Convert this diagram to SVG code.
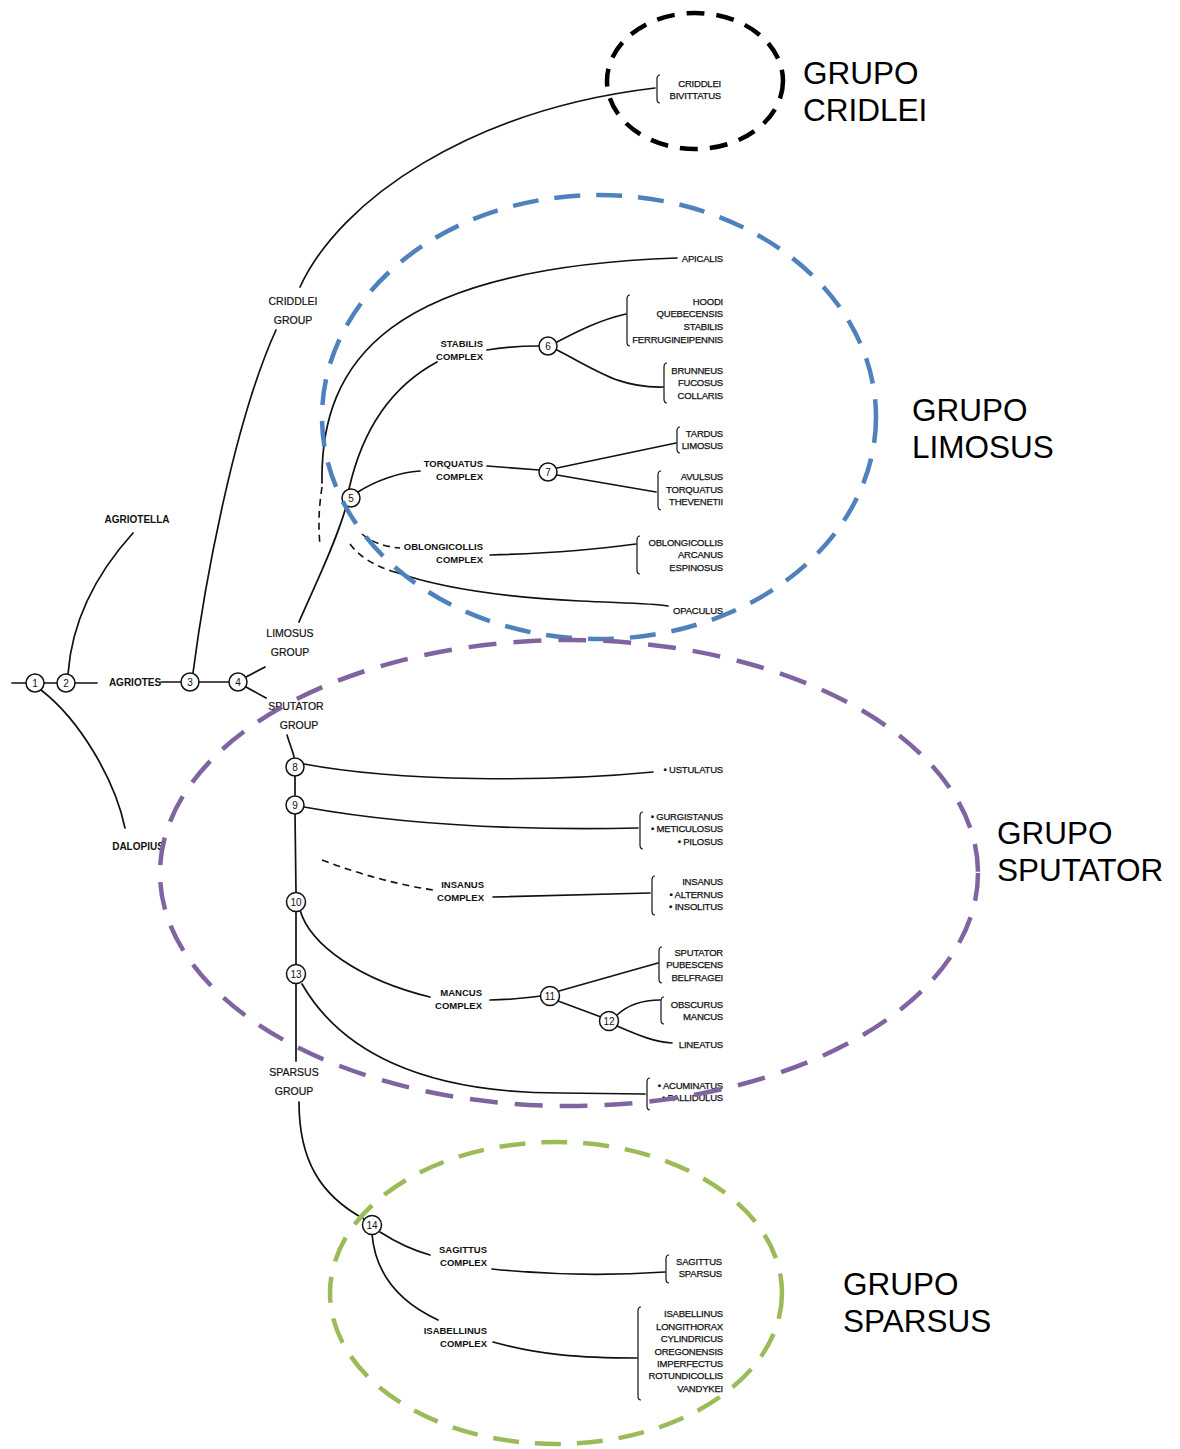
<svg xmlns="http://www.w3.org/2000/svg" width="1180" height="1449" viewBox="0 0 1180 1449">
<style>
.ln{fill:none;stroke:#111;stroke-width:1.7;stroke-linecap:round}
.dl{fill:none;stroke:#111;stroke-width:1.6;stroke-dasharray:7 5}
.br{fill:none;stroke:#111;stroke-width:1.2}
.nd circle{fill:#fff;stroke:#111;stroke-width:1.5}
.nd text{font-family:"Liberation Sans",Arial,sans-serif;font-size:10px;text-anchor:middle;fill:#111}
.sp{font-family:"Liberation Sans",Arial,sans-serif;font-size:9.5px;letter-spacing:-0.2px;text-anchor:end;fill:#111;stroke:#111;stroke-width:0.25}
.cx{font-family:"Liberation Sans",Arial,sans-serif;font-size:9.5px;font-weight:bold;text-anchor:end;fill:#111}
.gr{font-family:"Liberation Sans",Arial,sans-serif;font-size:10.5px;text-anchor:middle;fill:#111;stroke:#111;stroke-width:0.2}
.gn{font-family:"Liberation Sans",Arial,sans-serif;font-size:10px;font-weight:bold;text-anchor:middle;fill:#111}
.big{font-family:"Liberation Sans",Arial,sans-serif;font-size:31.5px;fill:#000}
.el{fill:none;stroke-width:4.5}
</style>
<rect width="1180" height="1449" fill="#fff"/>

<g id="connectors">
<path class="ln" d="M12,683 L26,683 M44,683 L57,683 M75,683 L97,683 M161,682 L181,682 M199,682 L229,682"/>
<path class="ln" d="M68,674 C72,620 95,575 133,533"/>
<path class="ln" d="M41,690 C80,720 115,780 125,828"/>
<path class="ln" d="M246,677 L265,667 M246,687 L266,698"/>
<path class="ln" d="M193,673 C205,580 235,420 276,330"/>
<path class="ln" d="M300,287 C340,200 470,110 655,88"/>
<path class="ln" d="M299,622 C315,585 335,545 346,507"/>
<path class="ln" d="M322,483 C320,360 390,268 677,258"/>
<path class="dl" d="M322,487 C319,507 318,525 320,545"/>
<path class="ln" d="M349,489 C360,440 385,390 437,362"/>
<path class="ln" d="M487,350 C505,347 525,346 539,346"/>
<path class="ln" d="M557,342 C580,330 600,320 626,314"/>
<path class="ln" d="M557,350 C600,372 620,388 663,387"/>
<path class="ln" d="M358,492 C375,481 400,472 420,471"/>
<path class="ln" d="M487,466 L539,470"/>
<path class="ln" d="M557,468 L676,443"/>
<path class="ln" d="M557,475 L656,492"/>
<path class="dl" d="M362,534 Q376,546 400,548"/>
<path class="ln" d="M490,555 C560,553 600,549 636,544"/>
<path class="dl" d="M350,544 Q364,563 395,572"/>
<path class="ln" d="M395,572 C440,588 500,597 580,601 C620,603 650,603 668,606"/>
<path class="ln" d="M287,735 C290,745 293,752 294,757"/>
<path class="ln" d="M295,776 L295,795 M295,814 L296,892 M296,911 L296,964 M296,983 L296,1061"/>
<path class="ln" d="M304,764 C400,782 550,782 653,772"/>
<path class="ln" d="M304,807 C420,828 540,830 638,828"/>
<path class="dl" d="M322,860 Q380,882 433,890"/>
<path class="ln" d="M493,897 L650,893"/>
<path class="ln" d="M300,910 C310,945 360,980 430,997"/>
<path class="ln" d="M490,1000 C510,1000 525,998 541,996"/>
<path class="ln" d="M559,991 L658,963"/>
<path class="ln" d="M558,1001 L601,1017"/>
<path class="ln" d="M617,1015 C630,1003 645,1000 660,1000"/>
<path class="ln" d="M617,1026 C640,1036 655,1042 672,1043"/>
<path class="ln" d="M302,984 C340,1050 420,1093 560,1093 L645,1094"/>
<path class="ln" d="M299,1102 C299,1160 320,1195 364,1219"/>
<path class="ln" d="M380,1232 Q405,1248 430,1255"/>
<path class="ln" d="M492,1269 C560,1276 620,1275 665,1272"/>
<path class="ln" d="M372,1234 C375,1270 395,1300 438,1320"/>
<path class="ln" d="M493,1342 C540,1355 580,1358 637,1358"/>
</g>

<g id="nodes">
<g id="n1" class="nd"><circle cx="35" cy="683" r="9"/><text x="35" y="686.5">1</text></g>
<g id="n2" class="nd"><circle cx="66" cy="683" r="9"/><text x="66" y="686.5">2</text></g>
<g id="n3" class="nd"><circle cx="190" cy="682" r="9"/><text x="190" y="685.5">3</text></g>
<g id="n4" class="nd"><circle cx="238" cy="682" r="9"/><text x="238" y="685.5">4</text></g>
<g id="n5" class="nd"><circle cx="351" cy="498" r="9"/><text x="351" y="501.5">5</text></g>
<g id="n6" class="nd"><circle cx="548" cy="346" r="9"/><text x="548" y="349.5">6</text></g>
<g id="n7" class="nd"><circle cx="548" cy="472" r="9"/><text x="548" y="475.5">7</text></g>
<g id="n8" class="nd"><circle cx="295" cy="767" r="9"/><text x="295" y="770.5">8</text></g>
<g id="n9" class="nd"><circle cx="295" cy="805" r="9"/><text x="295" y="808.5">9</text></g>
<g id="n10" class="nd"><circle cx="296" cy="902" r="9.5"/><text x="296" y="905.5">10</text></g>
<g id="n11" class="nd"><circle cx="550" cy="996" r="9.5"/><text x="550" y="999.5">11</text></g>
<g id="n12" class="nd"><circle cx="609" cy="1021" r="9.5"/><text x="609" y="1024.5">12</text></g>
<g id="n13" class="nd"><circle cx="296" cy="974" r="9.5"/><text x="296" y="977.5">13</text></g>
<g id="n14" class="nd"><circle cx="372" cy="1225" r="9.5"/><text x="372" y="1228.5">14</text></g>
</g>

<g id="genera">
<g id="agriotes"><text class="gn" x="135" y="686">AGRIOTES</text></g>
<g id="agriotella"><text class="gn" x="137" y="523">AGRIOTELLA</text></g>
<g id="dalopius"><text class="gn" x="138" y="850">DALOPIUS</text></g>
</g>

<g id="groups">
<g id="criddlei-group"><text class="gr" x="293" y="305">CRIDDLEI</text><text class="gr" x="293" y="324">GROUP</text></g>
<g id="limosus-group"><text class="gr" x="290" y="637">LIMOSUS</text><text class="gr" x="290" y="656">GROUP</text></g>
<g id="sputator-group"><text class="gr" x="296" y="710">SPUTATOR</text><text class="gr" x="299" y="729">GROUP</text></g>
<g id="sparsus-group"><text class="gr" x="294" y="1076">SPARSUS</text><text class="gr" x="294" y="1095">GROUP</text></g>
</g>

<g id="complexes">
<g id="stabilis-c"><text class="cx" x="483" y="347">STABILIS</text><text class="cx" x="483" y="360">COMPLEX</text></g>
<g id="torquatus-c"><text class="cx" x="483" y="467">TORQUATUS</text><text class="cx" x="483" y="480">COMPLEX</text></g>
<g id="oblongicollis-c"><text class="cx" x="483" y="550">OBLONGICOLLIS</text><text class="cx" x="483" y="563">COMPLEX</text></g>
<g id="insanus-c"><text class="cx" x="484" y="888">INSANUS</text><text class="cx" x="484" y="901">COMPLEX</text></g>
<g id="mancus-c"><text class="cx" x="482" y="996">MANCUS</text><text class="cx" x="482" y="1009">COMPLEX</text></g>
<g id="sagittus-c"><text class="cx" x="487" y="1253">SAGITTUS</text><text class="cx" x="487" y="1266">COMPLEX</text></g>
<g id="isabellinus-c"><text class="cx" x="487" y="1334">ISABELLINUS</text><text class="cx" x="487" y="1347">COMPLEX</text></g>
</g>

<g id="leaves">
<g id="l-criddlei"><path class="br" d="M660,75 Q657,75 657,79 L657,99 Q657,103 660,103"/><text class="sp" x="721" y="87">CRIDDLEI</text><text class="sp" x="721" y="99">BIVITTATUS</text></g>
<g id="l-apicalis"><text class="sp" x="723" y="262">APICALIS</text></g>
<g id="l-hoodi"><path class="br" d="M630,295 Q627,295 627,299 L627,342 Q627,346 630,346"/><text class="sp" x="723" y="305">HOODI</text><text class="sp" x="723" y="317">QUEBECENSIS</text><text class="sp" x="723" y="330">STABILIS</text><text class="sp" x="723" y="343">FERRUGINEIPENNIS</text></g>
<g id="l-brunneus"><path class="br" d="M667,363 Q664,363 664,367 L664,399 Q664,403 667,403"/><text class="sp" x="723" y="374">BRUNNEUS</text><text class="sp" x="723" y="386">FUCOSUS</text><text class="sp" x="723" y="399">COLLARIS</text></g>
<g id="l-tardus"><path class="br" d="M680,427 Q677,427 677,431 L677,449 Q677,453 680,453"/><text class="sp" x="723" y="437">TARDUS</text><text class="sp" x="723" y="449">LIMOSUS</text></g>
<g id="l-avulsus"><path class="br" d="M661,471 Q658,471 658,475 L658,506 Q658,510 661,510"/><text class="sp" x="723" y="480">AVULSUS</text><text class="sp" x="723" y="493">TORQUATUS</text><text class="sp" x="723" y="505">THEVENETII</text></g>
<g id="l-oblongicollis"><path class="br" d="M640,536 Q637,536 637,540 L637,570 Q637,574 640,574"/><text class="sp" x="723" y="546">OBLONGICOLLIS</text><text class="sp" x="723" y="558">ARCANUS</text><text class="sp" x="723" y="571">ESPINOSUS</text></g>
<g id="l-opaculus"><text class="sp" x="723" y="614">OPACULUS</text></g>
<g id="l-ustulatus"><text class="sp" x="723" y="773">• USTULATUS</text></g>
<g id="l-gurgistanus"><path class="br" d="M643,812 Q640,812 640,816 L640,845 Q640,849 643,849"/><text class="sp" x="723" y="820">• GURGISTANUS</text><text class="sp" x="723" y="832">• METICULOSUS</text><text class="sp" x="723" y="845">• PILOSUS</text></g>
<g id="l-insanus"><path class="br" d="M655,876 Q652,876 652,880 L652,911 Q652,915 655,915"/><text class="sp" x="723" y="885">INSANUS</text><text class="sp" x="723" y="898">• ALTERNUS</text><text class="sp" x="723" y="910">• INSOLITUS</text></g>
<g id="l-sputator"><path class="br" d="M662,947 Q659,947 659,951 L659,979 Q659,983 662,983"/><text class="sp" x="723" y="956">SPUTATOR</text><text class="sp" x="723" y="968">PUBESCENS</text><text class="sp" x="723" y="981">BELFRAGEI</text></g>
<g id="l-obscurus"><path class="br" d="M664,997 Q661,997 661,1001 L661,1020 Q661,1024 664,1024"/><text class="sp" x="723" y="1008">OBSCURUS</text><text class="sp" x="723" y="1020">MANCUS</text></g>
<g id="l-lineatus"><text class="sp" x="723" y="1048">LINEATUS</text></g>
<g id="l-acuminatus"><path class="br" d="M650,1078 Q647,1078 647,1082 L647,1106 Q647,1110 650,1110"/><text class="sp" x="723" y="1089">• ACUMINATUS</text><text class="sp" x="723" y="1101">• PALLIDULUS</text></g>
<g id="l-sagittus"><path class="br" d="M669,1255 Q666,1255 666,1259 L666,1279 Q666,1283 669,1283"/><text class="sp" x="722" y="1265">SAGITTUS</text><text class="sp" x="722" y="1277">SPARSUS</text></g>
<g id="l-isabellinus"><path class="br" d="M641,1307 Q638,1307 638,1311 L638,1396 Q638,1400 641,1400"/><text class="sp" x="723" y="1317">ISABELLINUS</text><text class="sp" x="723" y="1330">LONGITHORAX</text><text class="sp" x="723" y="1342">CYLINDRICUS</text><text class="sp" x="723" y="1355">OREGONENSIS</text><text class="sp" x="723" y="1367">IMPERFECTUS</text><text class="sp" x="723" y="1379">ROTUNDICOLLIS</text><text class="sp" x="723" y="1392">VANDYKEI</text></g>
</g>

<g id="grupos">
<ellipse class="el" cx="695" cy="81" rx="88" ry="68" stroke="#000" stroke-dasharray="18 12"/>
<ellipse class="el" cx="599" cy="417" rx="277" ry="222" stroke="#4f81bd" stroke-dasharray="26 16"/>
<ellipse class="el" cx="569" cy="873" rx="409" ry="233" stroke="#8064a2" stroke-dasharray="28 17"/>
<ellipse class="el" cx="556" cy="1293" rx="226" ry="151" stroke="#9bbb59" stroke-dasharray="26 16"/>
<text class="big" x="803" y="84">GRUPO</text><text class="big" x="803" y="121">CRIDLEI</text>
<text class="big" x="912" y="421">GRUPO</text><text class="big" x="912" y="458">LIMOSUS</text>
<text class="big" x="997" y="844">GRUPO</text><text class="big" x="997" y="881">SPUTATOR</text>
<text class="big" x="843" y="1295">GRUPO</text><text class="big" x="843" y="1332">SPARSUS</text>
</g>
</svg>
